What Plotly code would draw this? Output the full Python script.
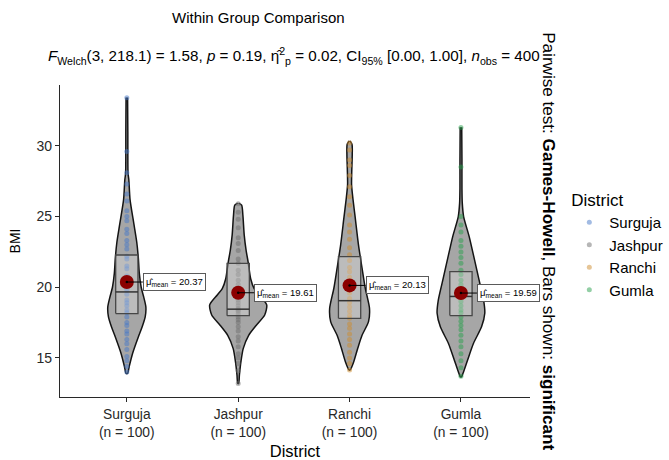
import plotly.graph_objects as go

districts = ["Surguja", "Jashpur", "Ranchi", "Gumla"]
n_obs = [100, 100, 100, 100]
point_colors = ["rgb(70,120,200)", "rgb(110,110,110)", "rgb(205,140,45)", "rgb(40,160,75)"]

# violin outlines: BMI level and half-width (category units)
surguja_levels = [33.42, 31.0, 29.6, 28.05, 27.6, 26.2, 24.5, 23.2, 22.1, 21.0, 20.0, 19.3, 18.6, 17.9, 17.2, 16.5, 15.3, 14.38, 13.9]
surguja_width = [0.007, 0.009, 0.009, 0.011, 0.018, 0.029, 0.063, 0.089, 0.103, 0.112, 0.129, 0.152, 0.171, 0.165, 0.138, 0.104, 0.051, 0.021, 0.007]
jashpur_levels = [25.95, 25.8, 25.1, 23.7, 22.6, 21.8, 20.6, 19.9, 19.45, 18.75, 18.04, 17.3, 16.6, 15.66, 14.7, 13.8, 13.2]
jashpur_width = [0.004, 0.031, 0.042, 0.054, 0.071, 0.089, 0.112, 0.143, 0.188, 0.256, 0.238, 0.161, 0.094, 0.045, 0.024, 0.011, 0.004]
ranchi_levels = [30.35, 30.1, 29.36, 28.3, 27.24, 26.2, 24.9, 23.0, 21.35, 19.93, 18.5, 17.57, 16.6, 15.7, 14.7, 14.15]
ranchi_width = [0.004, 0.022, 0.024, 0.020, 0.018, 0.031, 0.051, 0.080, 0.112, 0.141, 0.179, 0.170, 0.112, 0.074, 0.036, 0.005]
gumla_levels = [31.32, 29.0, 27.0, 25.95, 25.0, 23.58, 21.93, 20.5, 19.1, 18.16, 17.2, 16.04, 14.86, 13.9, 13.67]
gumla_width = [0.007, 0.009, 0.009, 0.012, 0.024, 0.074, 0.122, 0.163, 0.203, 0.214, 0.185, 0.113, 0.060, 0.018, 0.005]

# observed BMI values (visible points)
surguja_bmi = [33.4, 29.6, 28.1, 27.3, 26.6, 26.1, 25.4, 25.0, 24.7, 24.1, 23.8, 23.3, 23.0, 22.7, 22.2, 22.0, 21.5, 21.3, 20.8, 20.5, 20.2, 19.8, 19.5, 19.1, 18.9, 18.7, 18.4, 18.2, 17.9, 17.5, 17.3, 16.9, 16.7, 16.3, 16.0, 15.6, 15.1, 14.8, 14.4, 14.0]
jashpur_bmi = [25.9, 25.3, 24.8, 24.2, 23.5, 23.1, 22.6, 22.0, 21.7, 21.2, 20.9, 20.5, 20.2, 19.9, 19.6, 19.3, 19.1, 18.9, 18.7, 18.5, 18.4, 18.3, 18.1, 17.9, 17.7, 17.5, 17.2, 16.9, 16.5, 16.2, 15.8, 15.3, 15.0, 14.6, 14.1, 13.2]
ranchi_bmi = [30.2, 29.7, 29.0, 28.6, 27.9, 27.1, 26.4, 25.8, 25.1, 24.4, 23.9, 23.4, 22.8, 22.3, 21.9, 21.4, 21.1, 20.7, 20.3, 19.9, 19.6, 19.2, 18.9, 18.6, 18.3, 18.0, 17.8, 17.4, 17.1, 16.7, 16.3, 15.9, 15.4, 15.0, 14.6, 14.15]
gumla_bmi = [31.3, 28.5, 25.0, 24.4, 23.9, 23.3, 22.9, 22.5, 22.1, 21.7, 21.2, 20.9, 20.5, 20.2, 19.9, 19.6, 19.3, 19.0, 18.7, 18.4, 18.2, 17.9, 17.6, 17.3, 17.0, 16.6, 16.2, 15.8, 15.3, 14.8, 14.3, 13.7]

# box statistics and means
q1 = [18.14, 17.99, 17.8, 18.0]
median = [19.67, 18.45, 19.05, 19.35]
q3 = [22.28, 21.69, 22.17, 21.1]
means = [20.37, 19.61, 20.13, 19.59]

levels = [surguja_levels, jashpur_levels, ranchi_levels, gumla_levels]
widths = [surguja_width, jashpur_width, ranchi_width, gumla_width]
bmis = [surguja_bmi, jashpur_bmi, ranchi_bmi, gumla_bmi]

FONT = "Liberation Sans, Arial, sans-serif"
BOX_HALF = 0.1
fig = go.Figure()

# violins
for i in range(len(districts)):
    lv, wd = levels[i], widths[i]
    xs = [i - w for w in wd] + [i + w for w in reversed(wd)]
    ys = list(lv) + list(reversed(lv))
    fig.add_trace(go.Scatter(
        x=xs, y=ys, mode="lines", fill="toself",
        fillcolor="rgb(166,166,166)",
        line=dict(color="rgb(20,20,20)", width=1.5, shape="spline", smoothing=0.7),
        showlegend=False, hoverinfo="skip"))

# points
for i, d in enumerate(districts):
    fig.add_trace(go.Scatter(
        x=[i] * len(bmis[i]), y=bmis[i], mode="markers", name=d,
        marker=dict(color=point_colors[i], size=5, opacity=0.5),
        showlegend=True))

# boxes (quartiles, no whiskers) drawn above the violins
for i in range(len(districts)):
    fig.add_trace(go.Scatter(
        x=[i - BOX_HALF, i + BOX_HALF, i + BOX_HALF, i - BOX_HALF, i - BOX_HALF],
        y=[q1[i], q1[i], q3[i], q3[i], q1[i]],
        mode="lines", fill="toself", fillcolor="rgba(240,240,240,0.3)",
        line=dict(color="rgb(70,70,70)", width=1.3),
        showlegend=False, hoverinfo="skip"))
    fig.add_trace(go.Scatter(
        x=[i - BOX_HALF, i + BOX_HALF], y=[median[i], median[i]],
        mode="lines", line=dict(color="rgb(50,50,50)", width=1.5),
        showlegend=False, hoverinfo="skip"))

# means
fig.add_trace(go.Scatter(
    x=list(range(len(districts))), y=means, mode="markers",
    marker=dict(color="rgb(139,0,0)", size=14), showlegend=False, hoverinfo="skip"))
fig.add_trace(go.Scatter(
    x=list(range(len(districts))), y=means, mode="markers",
    marker=dict(color="black", size=2.5), showlegend=False, hoverinfo="skip"))

for i, m in enumerate(means):
    fig.add_annotation(
        x=i, y=m, xref="x", yref="y",
        text=f"μ̂<sub>mean</sub> = {m:.2f}",
        showarrow=True, arrowhead=0, arrowwidth=1, arrowcolor="black",
        ax=16, ay=0, xanchor="left",
        font=dict(family=FONT, size=9.5, color="black"),
        bgcolor="white", bordercolor="rgb(90,90,90)", borderwidth=1, borderpad=2)

# titles
fig.add_annotation(
    x=0.423, y=1.215, xref="paper", yref="paper", showarrow=False,
    text="Within Group Comparison", font=dict(family=FONT, size=15, color="black"),
    xanchor="center", yanchor="middle")
fig.add_annotation(
    x=0.498, y=1.094, xref="paper", yref="paper", showarrow=False,
    text="<i>F</i><sub>Welch</sub>(3, 218.1) = 1.58, <i>p</i> = 0.19, η̂<sup>2</sup><sub>p</sub> = 0.02, CI<sub>95%</sub> [0.00, 1.00], <i>n</i><sub>obs</sub> = 400",
    font=dict(family=FONT, size=15.2, color="black"),
    xanchor="center", yanchor="middle")
fig.add_annotation(
    x=1.04, y=0.5, xref="paper", yref="paper", showarrow=False, textangle=90,
    text="Pairwise test: <b>Games-Howell</b>, Bars shown: <b>significant</b>",
    font=dict(family=FONT, size=17.1, color="black"),
    xanchor="center", yanchor="middle")

fig.update_layout(
    width=669, height=460, autosize=False,
    margin=dict(l=60, r=139, t=85, b=63),
    paper_bgcolor="white", plot_bgcolor="white",
    font=dict(family=FONT, color="black"),
    legend=dict(
        title=dict(text="District", font=dict(family=FONT, size=17)),
        font=dict(family=FONT, size=15),
        xref="container", yref="container",
        x=0.851, y=0.6, xanchor="left", yanchor="top",
        tracegroupgap=0, itemwidth=30),
    xaxis=dict(
        range=[-0.6, 3.62], tickvals=list(range(len(districts))),
        ticktext=[f"{d}<br>(n = {n})" for d, n in zip(districts, n_obs)],
        showline=True, linecolor="rgb(40,40,40)", linewidth=1.2,
        ticks="outside", ticklen=4, tickcolor="rgb(40,40,40)",
        tickfont=dict(family=FONT, size=13.8, color="rgb(40,40,40)"),
        showgrid=False, zeroline=False, automargin=False,
        title=dict(text="District", font=dict(family=FONT, size=16.5), standoff=7)),
    yaxis=dict(
        range=[12.24, 34.3], tickvals=[15, 20, 25, 30],
        showline=True, linecolor="rgb(40,40,40)", linewidth=1.2,
        ticks="outside", ticklen=4, tickcolor="rgb(40,40,40)",
        tickfont=dict(family=FONT, size=14, color="rgb(40,40,40)"),
        showgrid=False, zeroline=False, automargin=False,
        title=dict(text="BMI", font=dict(family=FONT, size=14), standoff=12)),
)

fig.write_html("out.html", config={"displayModeBar": False},
               post_script="document.body.style.margin='0';")
